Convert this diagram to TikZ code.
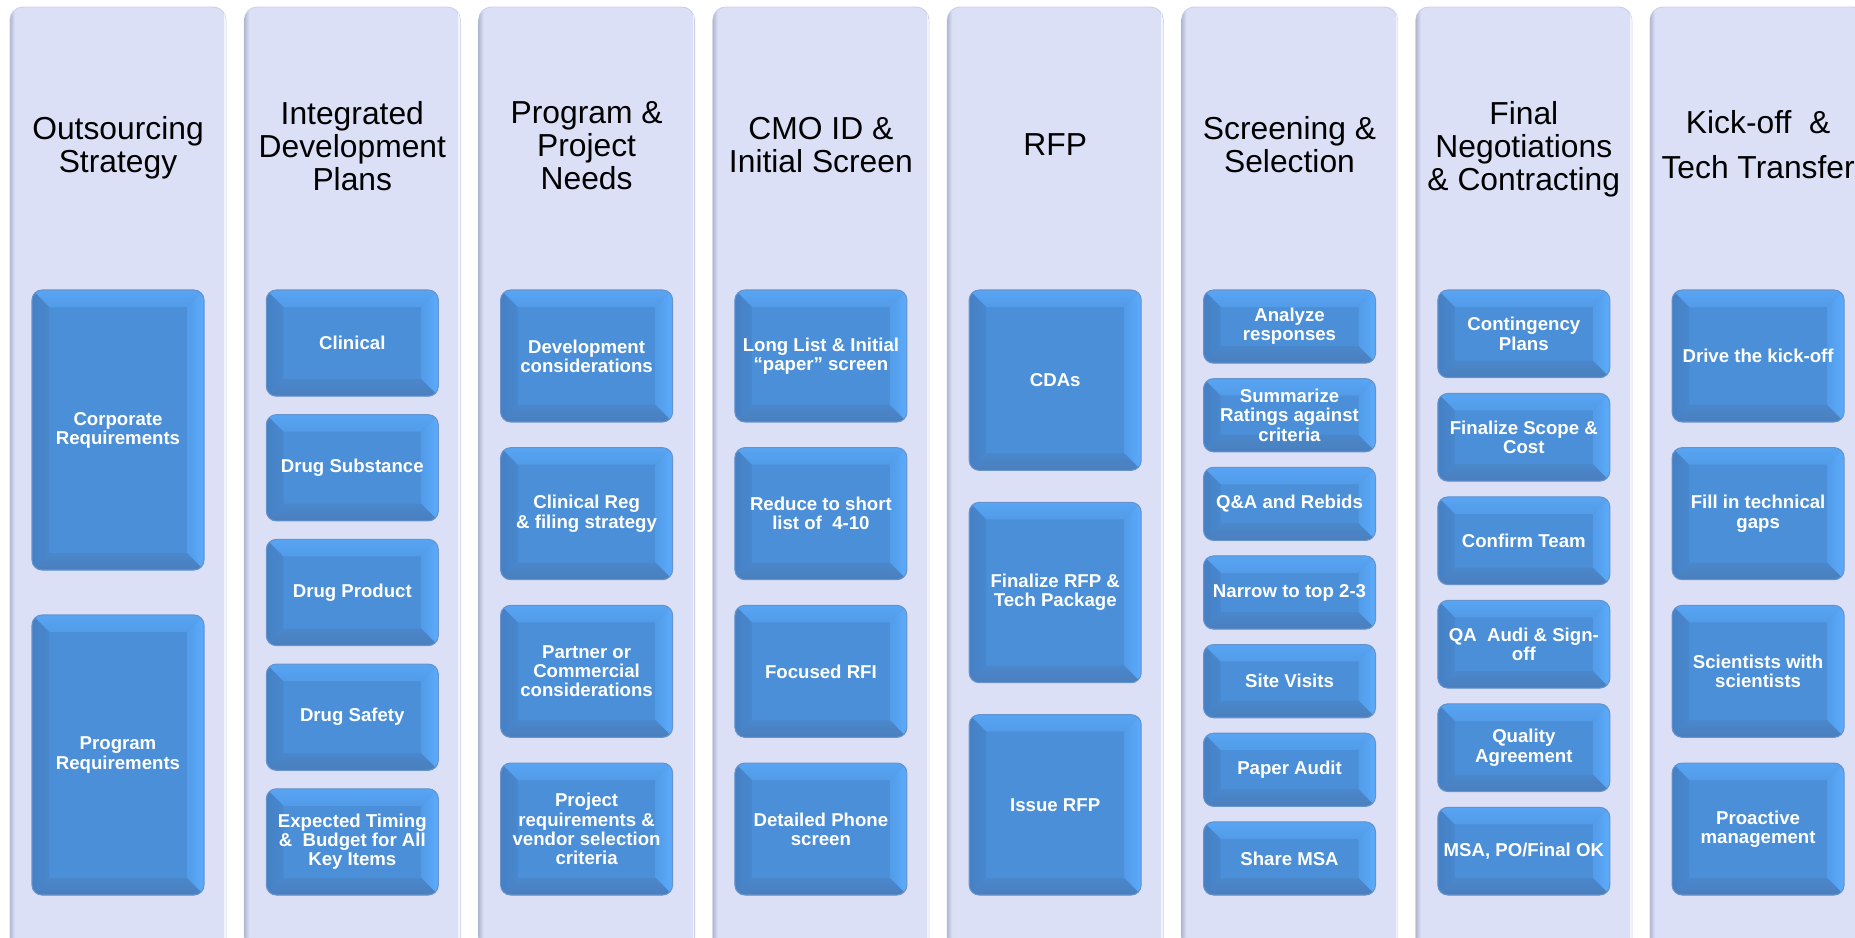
\documentclass[tikz,border=0pt]{standalone}
\usepackage{fontspec}
\setmainfont{Liberation Sans}
\usetikzlibrary{calc}

\definecolor{colfill}{HTML}{DCE0F7}
\definecolor{coledge}{HTML}{B4B8D2}
\definecolor{colrim}{HTML}{CACEE8}
\definecolor{face}{HTML}{4A8FD8}
\definecolor{bevtop}{HTML}{58A5F4}
\definecolor{bevright}{HTML}{5CABFC}
\definecolor{bevleft}{HTML}{4680C4}
\definecolor{bevbottom}{HTML}{4A7FBE}
\definecolor{boxrim}{HTML}{6693CC}

\tikzset{
  lane/.style={fill=colfill, draw=colrim, line width=0.5pt, rounded corners=0.26cm},
  lanetitle/.style={font=\fontsize{18.1}{18.8}\selectfont, align=center,
    text=black, inner sep=0pt},
  stepbox/.style={rounded corners=0.2cm, fill=face, draw=boxrim, line width=0.6pt,
    minimum width=3.44cm, inner sep=0pt, align=center, text=white,
    font=\bfseries\fontsize{10.6}{10.9}\selectfont,
    path picture={
      \def\bvw{0.34cm}
      \path (path picture bounding box.north west) coordinate (nw)
            (path picture bounding box.north east) coordinate (ne)
            (path picture bounding box.south west) coordinate (sw)
            (path picture bounding box.south east) coordinate (se);
      \shade[top color=bevtop, bottom color=bevtop!55!face, sharp corners]
            (nw) -- (ne) -- ([xshift=-\bvw,yshift=-\bvw]ne)
            -- ([xshift=\bvw,yshift=-\bvw]nw) -- cycle;
      \shade[right color=bevright, left color=bevright!45!face, sharp corners]
            (ne) -- (se) -- ([xshift=-\bvw,yshift=\bvw]se)
            -- ([xshift=-\bvw,yshift=-\bvw]ne) -- cycle;
      \shade[left color=bevleft, right color=bevleft!50!face, sharp corners]
            (nw) -- (sw) -- ([xshift=\bvw,yshift=\bvw]sw)
            -- ([xshift=\bvw,yshift=-\bvw]nw) -- cycle;
      \shade[bottom color=bevbottom, top color=bevbottom!50!face, sharp corners]
            (sw) -- (se) -- ([xshift=-\bvw,yshift=\bvw]se)
            -- ([xshift=\bvw,yshift=\bvw]sw) -- cycle;
    }},
}

% one lane: index, title centre y, title
\newcommand\lanebg[3]{%
  \pgfmathsetmacro\lx{10+234.3*#1}
  \pgfmathsetmacro\rx{\lx+216}
  \draw[lane] (\lx,7) rectangle (\rx,952);
  \begin{scope}
    \clip[rounded corners=0.26cm] (\lx,7) rectangle (\rx,952);
    \shade[left color=coledge, right color=colfill] (\lx,7) rectangle (\lx+5,952);
    \fill[white, opacity=0.7] (\rx-2,7) rectangle (\rx,952);
  \end{scope}
  \node[lanetitle] (title#1) at (118+234.3*#1,#2) {#3};
}

% stacked step boxes in a lane: index, count, gap, list of texts
\newcommand\stackboxes[4]{%
  \pgfmathsetmacro\bh{(605-(#2-1)*#3)/#2}
  \pgfmathsetmacro\cx{118+234.3*#1}
  \foreach \txt [count=\k from 0] in {#4} {
    \pgfmathsetmacro\cy{289+\k*(\bh+#3)+\bh/2+1}
    \node[stepbox, minimum height=\bh*0.02cm] (box#1-\k) at (\cx,\cy) {\txt};
  }
}

\begin{document}
\begin{tikzpicture}[x=0.02cm, y=-0.02cm]
\useasboundingbox (0,0) rectangle (1855,937);
\clip (0,0) rectangle (1855,937);
\fill[white] (0,0) rectangle (1855,937);

\lanebg{0}{148}{Outsourcing\\Strategy}
\lanebg{1}{146}{Integrated\\Development\\Plans}
\lanebg{2}{146}{Program \&\\Project\\Needs}
\lanebg{3}{145}{CMO ID \&\\Initial Screen}
\lanebg{4}{145}{RFP}
\lanebg{5}{145}{Screening \&\\Selection}
\lanebg{6}{149.5}{Final\\Negotiations\\\& Contracting}
\lanebg{7}{144.5}{Kick-off \ \&\\[6.8pt]Tech Transfer}

\stackboxes{0}{2}{45}{{Corporate\\Requirements},{Program\\Requirements}}
\stackboxes{1}{5}{18.5}{Clinical,Drug Substance,Drug Product,Drug Safety,
  {Expected Timing\\\& \ Budget for All\\Key Items}}
\stackboxes{2}{4}{25.7}{{Development\\considerations},{Clinical Reg\\\& filing strategy},
  {Partner or\\Commercial\\considerations},{Project\\requirements \&\\vendor selection\\criteria}}
\stackboxes{3}{4}{25.7}{{Long List \& Initial\\“paper” screen},{Reduce to short\\list of \ 4-10},
  Focused RFI,{Detailed Phone\\screen}}
\stackboxes{4}{3}{32}{CDAs,{Finalize RFP \&\\Tech Package},Issue RFP}
\stackboxes{5}{7}{15.5}{{Analyze\\responses},{Summarize\\Ratings against\\criteria},
  Q\&A and Rebids,Narrow to top 2-3,Site Visits,Paper Audit,Share MSA}
\stackboxes{6}{6}{15.8}{{Contingency\\Plans},{Finalize Scope \&\\Cost},Confirm Team,
  {QA \ Audi \& Sign-\\off},{Quality\\Agreement},{MSA, PO/Final OK}}
\stackboxes{7}{4}{25.7}{Drive the kick-off,{Fill in technical\\gaps},
  {Scientists with\\scientists},{Proactive\\management}}
\end{tikzpicture}
\end{document}
